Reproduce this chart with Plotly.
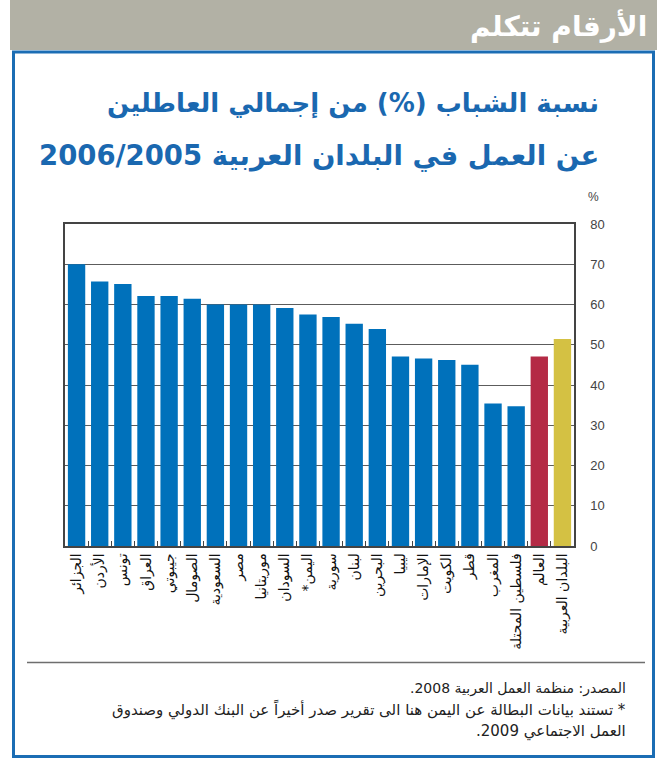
import plotly.graph_objects as go

# ---- data ----
categories = [
    "الجزائر", "الأردن", "تونس", "العراق", "جيبوتي", "الصومال", "السعودية",
    "مصر", "موريتانيا", "السودان", "اليمن*\u200f", "سورية", "لبنان", "البحرين",
    "ليبيا", "الإمارات", "الكويت", "قطر", "المغرب", "فلسطين المحتلة",
    "العالم", "البلدان العربية",
]
values = [70.0, 65.7, 65.1, 62.1, 62.1, 61.4, 60.0, 60.0, 60.0, 59.1, 57.5,
          56.9, 55.2, 53.9, 47.1, 46.6, 46.2, 45.0, 35.4, 34.7, 47.1, 51.4]
y_ticks = [0, 10, 20, 30, 40, 50, 60, 70, 80]

header_text = "الأرقام تتكلم"
title_line1 = "نسبة الشباب (%) من إجمالي العاطلين"
title_line2 = "عن العمل في البلدان العربية 2006/2005"
foot_line1 = "المصدر: منظمة العمل العربية 2008.\u200f"
foot_line2 = "\u200f* تستند بيانات البطالة عن اليمن هنا الى تقرير صدر أخيراً عن البنك الدولي وصندوق"
foot_line3 = "العمل الاجتماعي 2009.\u200f"

# ---- style ----
BLUE = "#0071bb"
special = {"العالم": "#b42a45", "البلدان العربية": "#d4c143"}
bar_colors = [special.get(c, BLUE) for c in categories]
AR_FONT = "DejaVu Sans"

W, H = 657, 768
L, R, T, B = 65, 83, 224, 222
PW, PH = W - L - R, H - T - B


def px(x):
    return (x - L) / PW


def py(y):
    return (H - B - y) / PH


fig = go.Figure()
fig.add_trace(go.Bar(
    x=categories, y=values,
    marker=dict(color=bar_colors, line=dict(width=0)),
    width=0.75,
    hoverinfo="x+y",
))

shapes = [
    dict(type="rect", xref="paper", yref="paper", layer="below",
         x0=px(10), x1=px(657), y0=py(50), y1=py(0),
         fillcolor="#b2b1a5", line=dict(width=0)),
    dict(type="rect", xref="paper", yref="paper", layer="below",
         x0=px(13.5), x1=px(653.5), y0=py(756.5), y1=py(52),
         fillcolor="rgba(0,0,0,0)", line=dict(color="#1b6db4", width=3)),
    dict(type="line", xref="paper", yref="paper",
         x0=px(27), x1=px(645), y0=py(662.5), y1=py(662.5),
         line=dict(color="#6e6e6e", width=1.5)),
]

annotations = [
    dict(text=header_text, xref="paper", yref="paper", x=px(649), y=py(26),
         xanchor="right", yanchor="middle", showarrow=False,
         font=dict(family=AR_FONT, size=28, color="white", weight=700)),
    dict(text=title_line1, xref="paper", yref="paper", x=px(601), y=py(103),
         xanchor="right", yanchor="middle", showarrow=False,
         font=dict(family=AR_FONT, size=26, color="#1a68b0", weight=700)),
    dict(text=title_line2, xref="paper", yref="paper", x=px(601), y=py(155),
         xanchor="right", yanchor="middle", showarrow=False,
         font=dict(family=AR_FONT, size=27.5, color="#1a68b0", weight=700)),
    dict(text="%", xref="paper", yref="paper", x=px(586), y=py(197),
         xanchor="left", yanchor="middle", showarrow=False,
         font=dict(family="Liberation Sans", size=12, color="#444")),
    dict(text=foot_line1, xref="paper", yref="paper", x=px(628), y=py(688),
         xanchor="right", yanchor="middle", showarrow=False,
         font=dict(family=AR_FONT, size=14, color="#222")),
    dict(text=foot_line2, xref="paper", yref="paper", x=px(628), y=py(709),
         xanchor="right", yanchor="middle", showarrow=False,
         font=dict(family=AR_FONT, size=15, color="#222")),
    dict(text=foot_line3, xref="paper", yref="paper", x=px(628), y=py(731),
         xanchor="right", yanchor="middle", showarrow=False,
         font=dict(family=AR_FONT, size=15, color="#222")),
]

fig.update_layout(
    width=W, height=H,
    margin=dict(l=L, r=R, t=T, b=B, pad=0),
    paper_bgcolor="white", plot_bgcolor="white",
    showlegend=False,
    shapes=shapes,
    annotations=annotations,
    bargap=0.25,
    xaxis=dict(
        type="category",
        tickangle=-90,
        tickfont=dict(family=AR_FONT, size=14, color="#111"),
        showline=True, linecolor="#444", linewidth=1.5, mirror=True,
        ticks="inside", tickson="boundaries", ticklen=5, tickcolor="#444",
        tickwidth=1, showgrid=False,
    ),
    yaxis=dict(
        side="right",
        range=[0, 80],
        tickvals=y_ticks,
        tickfont=dict(family="Liberation Sans", size=13, color="#444"),
        ticklabelstandoff=12,
        showline=True, linecolor="#444", linewidth=1.5, mirror=True,
        showgrid=True, gridcolor="#5c5c5c", gridwidth=1.3,
        zeroline=False, ticks="",
    ),
)

fig.write_html(
    "out.html",
    config={"displayModeBar": False},
    post_script="document.body.style.margin='0';document.body.style.overflow='hidden';",
)
